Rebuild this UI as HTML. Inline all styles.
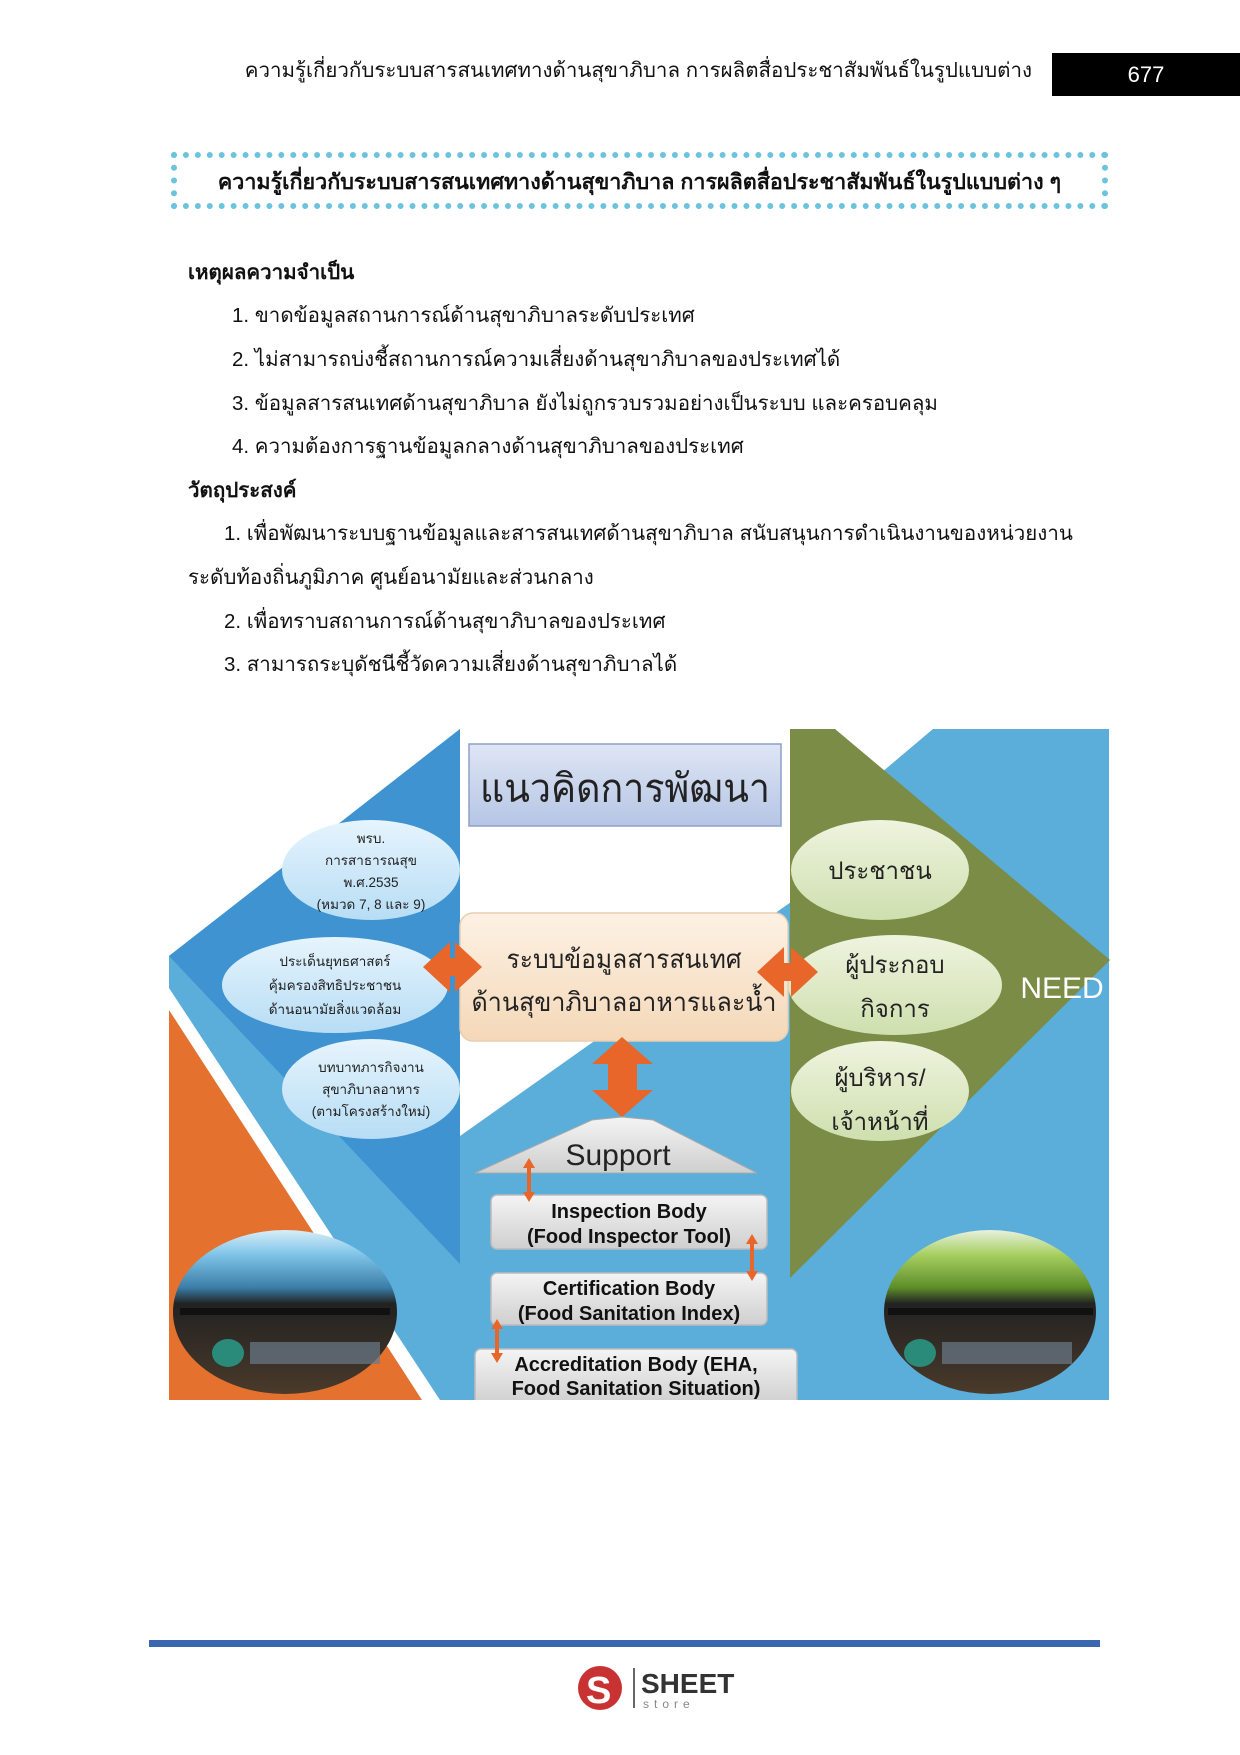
<!DOCTYPE html>
<html><head><meta charset="utf-8">
<style>
body{margin:0;width:1240px;height:1755px;background:#fff;position:relative;font-family:"Liberation Sans","Noto Sans CJK SC",sans-serif;overflow:hidden}
.t{position:absolute;white-space:nowrap;font-family:"Liberation Sans","Noto Sans CJK SC","WenQuanYi Zen Hei",sans-serif;color:#111}
</style></head><body>
<div class="t" style="right:208px;top:54px;font-size:20.5px">ความรู้เกี่ยวกับระบบสารสนเทศทางด้านสุขาภิบาล การผลิตสื่อประชาสัมพันธ์ในรูปแบบต่าง</div>
<div style="position:absolute;left:1052px;top:53px;width:188px;height:43px;background:#000;color:#fff;font-size:22px;text-align:center;line-height:43px">677</div>
<div style="position:absolute;left:171px;top:152px;width:925px;height:45px;border:6px dotted #6cc3dd;"></div>
<div class="t" style="left:171px;width:937px;text-align:center;top:165px;font-size:21.5px;font-weight:bold">ความรู้เกี่ยวกับระบบสารสนเทศทางด้านสุขาภิบาล การผลิตสื่อประชาสัมพันธ์ในรูปแบบต่าง ๆ</div>
<div class="t" style="left:188px;top:256px;font-size:20.5px;font-weight:bold">เหตุผลความจำเป็น</div>
<div class="t" style="left:232px;top:299px;font-size:20.5px">1. ขาดข้อมูลสถานการณ์ด้านสุขาภิบาลระดับประเทศ</div>
<div class="t" style="left:232px;top:343px;font-size:20.5px">2. ไม่สามารถบ่งชี้สถานการณ์ความเสี่ยงด้านสุขาภิบาลของประเทศได้</div>
<div class="t" style="left:232px;top:387px;font-size:20.5px">3. ข้อมูลสารสนเทศด้านสุขาภิบาล ยังไม่ถูกรวบรวมอย่างเป็นระบบ และครอบคลุม</div>
<div class="t" style="left:232px;top:430px;font-size:20.5px">4. ความต้องการฐานข้อมูลกลางด้านสุขาภิบาลของประเทศ</div>
<div class="t" style="left:188px;top:474px;font-size:20.5px;font-weight:bold">วัตถุประสงค์</div>
<div class="t" style="left:224px;top:517px;font-size:20.5px">1. เพื่อพัฒนาระบบฐานข้อมูลและสารสนเทศด้านสุขาภิบาล สนับสนุนการดำเนินงานของหน่วยงาน</div>
<div class="t" style="left:188px;top:561px;font-size:20.5px">ระดับท้องถิ่นภูมิภาค ศูนย์อนามัยและส่วนกลาง</div>
<div class="t" style="left:224px;top:605px;font-size:20.5px">2. เพื่อทราบสถานการณ์ด้านสุขาภิบาลของประเทศ</div>
<div class="t" style="left:224px;top:648px;font-size:20.5px">3. สามารถระบุดัชนีชี้วัดความเสี่ยงด้านสุขาภิบาลได้</div>

<svg style="position:absolute;left:160px;top:720px" width="960" height="680" viewBox="0 0 960 680" font-family="Liberation Sans, Noto Sans CJK SC, sans-serif">
<defs>
<linearGradient id="gb" x1="0" y1="0" x2="0" y2="1"><stop offset="0" stop-color="#e6f4fd"/><stop offset="1" stop-color="#b7ddf5"/></linearGradient>
<linearGradient id="gg" x1="0" y1="0" x2="0" y2="1"><stop offset="0" stop-color="#eef4df"/><stop offset="1" stop-color="#cfdfae"/></linearGradient>
<linearGradient id="gt" x1="0" y1="0" x2="0" y2="1"><stop offset="0" stop-color="#dfe6f5"/><stop offset="1" stop-color="#b5c5e4"/></linearGradient>
<linearGradient id="gp" x1="0" y1="0" x2="0" y2="1"><stop offset="0" stop-color="#fdf1e4"/><stop offset="1" stop-color="#f4d8b8"/></linearGradient>
<linearGradient id="gx" x1="0" y1="0" x2="0" y2="1"><stop offset="0" stop-color="#f4f4f4"/><stop offset="1" stop-color="#cfcfcf"/></linearGradient>
<linearGradient id="sl" x1="0" y1="0" x2="0" y2="1"><stop offset="0" stop-color="#d8eef8"/><stop offset="0.15" stop-color="#7fc4e8"/><stop offset="0.35" stop-color="#3b7fa8"/><stop offset="0.45" stop-color="#222"/><stop offset="1" stop-color="#4a3a2a"/></linearGradient>
<linearGradient id="sr" x1="0" y1="0" x2="0" y2="1"><stop offset="0" stop-color="#e8f0e0"/><stop offset="0.15" stop-color="#a8d060"/><stop offset="0.35" stop-color="#5e8e2a"/><stop offset="0.45" stop-color="#222"/><stop offset="1" stop-color="#4a3a2a"/></linearGradient>
</defs>
<rect x="9" y="9" width="940" height="671" fill="#5badda"/>
<polygon points="300,9 631,9 631,182 300,416" fill="#fff"/>
<polygon points="9,9 300,9 9,236" fill="#fff"/>
<polygon points="675,9 773,9 715,58" fill="#fff"/>
<polygon points="9,286 262,680 9,680" fill="#e4712e"/>
<polygon points="9,268 280,680 262,680 9,290" fill="#fff"/>
<polygon points="300,9 300,544 9,236" fill="#3f93d0"/>
<polygon points="630,9 675,9 950,240 630,558" fill="#7b8c46"/>
<text x="902" y="278" font-size="30" fill="#fff" text-anchor="middle">NEED</text>
<rect x="309" y="24" width="312" height="82" fill="url(#gt)" stroke="#8ea0c8" stroke-width="1.5"/>
<text x="465" y="82" font-size="40" text-anchor="middle" fill="#222" textLength="290" lengthAdjust="spacingAndGlyphs">แนวคิดการพัฒนา</text>
<g fill="url(#gb)">
<ellipse cx="211" cy="150" rx="89" ry="50"/><ellipse cx="175" cy="265" rx="113" ry="48"/><ellipse cx="211" cy="369" rx="89" ry="50"/></g>
<g font-size="13.5" fill="#222" text-anchor="middle">
<text x="211" y="123">พรบ.</text><text x="211" y="145">การสาธารณสุข</text><text x="211" y="167">พ.ศ.2535</text><text x="211" y="189">(หมวด 7, 8 และ 9)</text>
<text x="175" y="246">ประเด็นยุทธศาสตร์</text><text x="175" y="270">คุ้มครองสิทธิประชาชน</text><text x="175" y="294">ด้านอนามัยสิ่งแวดล้อม</text>
<text x="211" y="352">บทบาทภารกิจงาน</text><text x="211" y="374">สุขาภิบาลอาหาร</text><text x="211" y="396">(ตามโครงสร้างใหม่)</text></g>
<g fill="url(#gg)">
<ellipse cx="720" cy="150" rx="89" ry="50"/><ellipse cx="735" cy="265" rx="107" ry="50"/><ellipse cx="720" cy="371" rx="89" ry="50"/></g>
<g font-size="24" fill="#222" text-anchor="middle">
<text x="720" y="159">ประชาชน</text><text x="735" y="253">ผู้ประกอบ</text><text x="735" y="297">กิจการ</text>
<text x="720" y="366">ผู้บริหาร/</text><text x="720" y="410">เจ้าหน้าที่</text></g>
<rect x="300" y="193" width="328" height="128" rx="13" fill="url(#gp)" stroke="#e8cfb0" stroke-width="1.5"/>
<text x="464" y="248" font-size="26" text-anchor="middle" fill="#222" textLength="235" lengthAdjust="spacingAndGlyphs">ระบบข้อมูลสารสนเทศ</text>
<text x="464" y="291" font-size="26" text-anchor="middle" fill="#222" textLength="305" lengthAdjust="spacingAndGlyphs">ด้านสุขาภิบาลอาหารและน้ำ</text>
<g fill="#e8662a">
<polygon points="263,247 290,222 290,238 295,238 295,222 322,247 295,272 295,256 290,256 290,272"/>
<polygon points="597,252 624,227 624,243 631,243 631,227 658,252 631,277 631,261 624,261 624,277"/>
<polygon points="462,317 493,344 477,344 477,370 493,370 462,397 432,370 448,370 448,344 432,344"/></g>
<polygon points="315,453 597,453 493,400 462,397 432,400" fill="url(#gx)" stroke="#aaa"/>
<text x="458" y="445" font-size="30" text-anchor="middle" fill="#222">Support</text>
<g fill="url(#gx)" stroke="#bbb" stroke-width="1.5">
<rect x="331" y="475" width="276" height="54" rx="6"/><rect x="331" y="553" width="276" height="52" rx="6"/><rect x="315" y="629" width="322" height="56" rx="6"/></g>
<g font-size="20" font-weight="bold" text-anchor="middle" fill="#111">
<text x="469" y="498">Inspection Body</text><text x="469" y="523">(Food Inspector Tool)</text>
<text x="469" y="575">Certification Body</text><text x="469" y="600">(Food Sanitation Index)</text>
<text x="476" y="651">Accreditation Body (EHA,</text><text x="476" y="675">Food Sanitation Situation)</text></g>
<g stroke="#e8662a" stroke-width="4">
<line x1="369" y1="444" x2="369" y2="477"/><line x1="592" y1="520" x2="592" y2="556"/><line x1="337" y1="605" x2="337" y2="638"/></g>
<g fill="#e8662a">
<polygon points="369,438 363,448 375,448"/><polygon points="369,482 363,472 375,472"/>
<polygon points="592,514 586,524 598,524"/><polygon points="592,561 586,551 598,551"/>
<polygon points="337,599 331,609 343,609"/><polygon points="337,643 331,633 343,633"/></g>
<ellipse cx="125" cy="592" rx="112" ry="82" fill="url(#sl)"/>
<rect x="20" y="588" width="210" height="7" fill="#111"/>
<ellipse cx="68" cy="633" rx="16" ry="14" fill="#2a8b7a"/>
<rect x="90" y="622" width="130" height="22" fill="#6a7a8a" opacity="0.7"/>
<ellipse cx="830" cy="592" rx="106" ry="82" fill="url(#sr)"/>
<rect x="728" y="588" width="205" height="7" fill="#111"/>
<ellipse cx="760" cy="633" rx="16" ry="14" fill="#2a8b7a"/>
<rect x="782" y="622" width="130" height="22" fill="#6a7a8a" opacity="0.7"/>
</svg>

<div style="position:absolute;left:149px;top:1640px;width:951px;height:7px;background:#3a67b0"></div>
<div style="position:absolute;left:578px;top:1666px;width:44px;height:44px;border-radius:50%;background:#c93232"></div>
<div style="position:absolute;left:586px;top:1670px;font-size:38px;font-weight:bold;color:#fff;font-family:'Liberation Sans',sans-serif">S</div>
<div style="position:absolute;left:633px;top:1668px;width:2px;height:40px;background:#666"></div>
<div class="t" style="left:641px;top:1668px;font-size:28px;font-weight:bold;color:#333">SHEET</div>
<div class="t" style="left:643px;top:1697px;font-size:12px;letter-spacing:5px;color:#888">store</div>
</body></html>
